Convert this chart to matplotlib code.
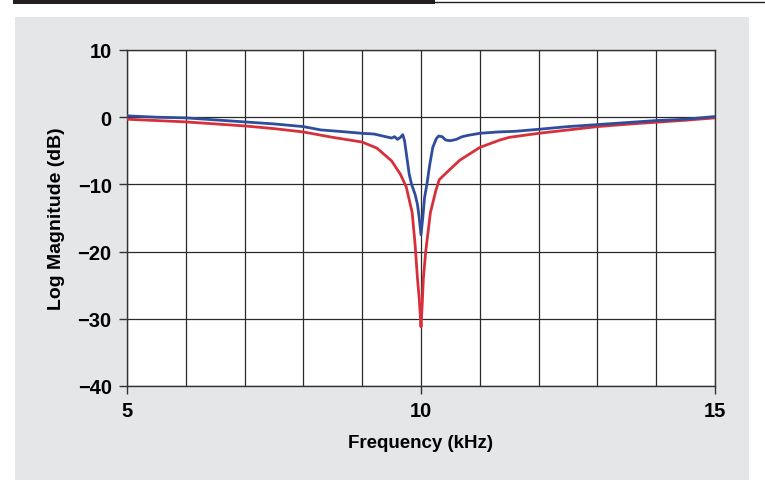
import matplotlib
matplotlib.use("Agg")
import numpy as np
import matplotlib.pyplot as plt
from matplotlib.patches import Rectangle
from matplotlib.lines import Line2D

plt.rcParams['font.family'] = ['Liberation Sans', 'DejaVu Sans']
plt.rcParams['font.weight'] = 'bold'

# red trace (frequency in kHz, magnitude in dB)
red_f = [5.0, 5.5, 6.0, 6.5, 7.0, 7.5, 8.0, 8.5, 9.0, 9.25, 9.5, 9.65, 9.75,
         9.85, 9.9, 9.94, 9.97, 10.0, 10.02, 10.04, 10.08, 10.16, 10.25, 10.31,
         10.44, 10.66, 11.0, 11.34, 11.5, 12.0, 12.5, 13.0, 13.5, 14.0, 14.5, 15.0]
red_db = [-0.3, -0.5, -0.7, -1.0, -1.3, -1.7, -2.2, -3.0, -3.7, -4.6, -6.5, -8.5, -10.4,
          -14.2, -19.0, -24.0, -27.0, -31.2, -28.0, -24.0, -20.0, -14.2, -11.0, -9.3,
          -8.2, -6.4, -4.5, -3.4, -3.0, -2.4, -1.9, -1.4, -1.05, -0.75, -0.45, -0.1]

# blue trace
blue_f = [5.0, 5.5, 6.0, 6.5, 7.0, 7.5, 8.0, 8.3, 8.6, 9.0, 9.2, 9.4, 9.5, 9.55,
          9.6, 9.65, 9.69, 9.72, 9.76, 9.8, 9.84, 9.9, 9.94, 9.97, 10.0, 10.03,
          10.06, 10.1, 10.15, 10.2, 10.26, 10.3, 10.36, 10.42, 10.5, 10.6, 10.7,
          10.8, 11.0, 11.3, 11.6, 12.0, 12.5, 13.0, 13.5, 14.0, 14.5, 15.0]
blue_db = [0.2, 0.0, -0.1, -0.4, -0.7, -1.0, -1.4, -1.9, -2.1, -2.4, -2.5, -2.9, -3.1, -2.9,
           -3.3, -3.0, -2.6, -3.5, -6.0, -8.5, -10.0, -11.5, -13.0, -15.0, -17.5, -15.0,
           -12.0, -10.0, -7.0, -4.5, -3.2, -2.8, -2.9, -3.4, -3.5, -3.3, -2.9,
           -2.7, -2.4, -2.2, -2.1, -1.8, -1.4, -1.1, -0.8, -0.5, -0.3, 0.1]

x_ticks = [5, 10, 15]
y_ticks = [10, 0, -10, -20, -30, -40]

W, H = 765, 481
fig = plt.figure(figsize=(W / 100, H / 100), dpi=100)
fig.patch.set_facecolor('white')

# grey panel and the dark header bar
fig.patches.append(Rectangle((15 / W, 0), (749 - 15) / W, 1 - 18 / H,
                             transform=fig.transFigure, facecolor='#e5e6e8',
                             edgecolor='none', zorder=-2))
fig.patches.append(Rectangle((13 / W, 1 - 5 / H), (435 - 13) / W, 5 / H,
                             transform=fig.transFigure, facecolor='#231f20',
                             edgecolor='none', zorder=-1))
fig.lines.append(Line2D([435 / W, 1], [1 - 3 / H, 1 - 3 / H], transform=fig.transFigure,
                        color='#231f20', lw=1.0, zorder=-1))

ax = fig.add_axes([127 / W, (H - 387) / H, 588 / W, 336 / H])
ax.set_zorder(5)
ax.set_facecolor('white')

ax.plot(red_f, red_db, color='#d7303b', lw=2.0, zorder=3)
ax.plot(blue_f, blue_db, color='#2f4d9c', lw=2.0, zorder=4)

ax.set_xlim(5, 15)
ax.set_ylim(-40, 10)
ax.set_xticks(x_ticks)
ax.set_xticks(np.arange(5, 15.01, 1.0), minor=True)
ax.set_yticks(y_ticks)
ax.grid(True, which='both', color='#2a2a2a', lw=0.9)
ax.tick_params(which='minor', length=0)
ax.tick_params(which='major', length=6, width=1, color='#333333', labelsize=14.5, pad=5)
for s in ax.spines.values():
    s.set_color('#333333')
    s.set_linewidth(1.0)

ax.set_xlabel('Frequency (kHz)', fontsize=13.5, fontweight='bold', labelpad=10)
ax.set_ylabel('Log Magnitude (dB)', fontsize=14, fontweight='bold', labelpad=9)

fig.savefig('out.png', dpi=100, facecolor=fig.get_facecolor())
